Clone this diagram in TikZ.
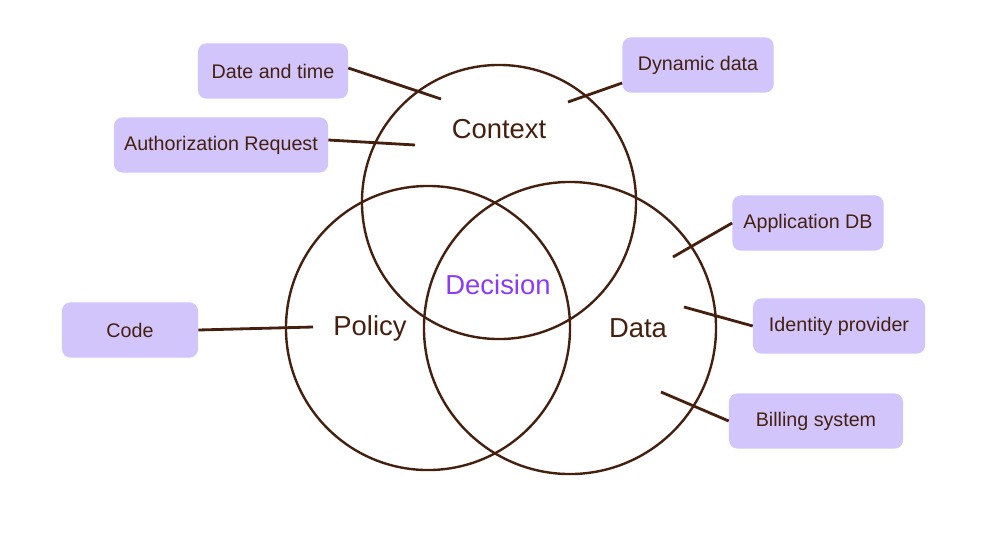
\documentclass[tikz,border=0pt]{standalone}
\usepackage{fontspec}
\setmainfont{Liberation Sans}
\usepackage{tikz}
\usetikzlibrary{calc}
\usepackage{xcolor}
\definecolor{ink}{HTML}{45200F}
\definecolor{lilac}{HTML}{D1C5FC}
\definecolor{decide}{HTML}{8A3CF6}

\begin{document}
\begin{tikzpicture}[x=0.025cm, y=-0.025cm, ink,
		tag/.style={fill=lilac, rounded corners=6pt, minimum height=1.38cm, inner sep=0pt, text=ink, font=\fontsize{14}{16}\selectfont},
		ring/.style={circle, draw=ink, line width=1.7pt, inner sep=0pt},
		big/.style={text=ink, font=\fontsize{19.5}{22}\selectfont},
		wire/.style={draw=ink, line width=2pt}]
					\useasboundingbox (0,0) rectangle (1004,540);
					\node[ring, minimum size=6.85cm] (context) at (499,202) {};
					\node[ring, minimum size=7.1cm] (policy) at (428,328) {};
					\node[ring, minimum size=7.3cm] (data) at (570,328) {};
					\node[big] (ctxlbl) at (499,129) {Context};
					\node[big] (pollbl) at (370,328) {Policy};
					\node[big] (datlbl) at (638,328) {Data};
					\node[big, text=decide] (decision) at (498,285) {Decision};
					\node[tag, minimum width=3.75cm] (date) at (273,71) {Date and time};
					\node[tag, minimum width=5.35cm] (authz) at (221,145) {Authorization Request};
					\node[tag, minimum width=3.78cm] (dyn) at (698,65) {Dynamic data};
					\node[tag, minimum width=3.78cm] (appdb) at (808,223) {Application DB};
					\node[tag, minimum width=4.3cm] (idp) at (839,326) {Identity provider};
					\node[tag, minimum width=4.35cm] (billing) at (816,421) {Billing system};
					\node[tag, minimum width=3.4cm] (code) at (130,330) {Code};
					% loose ends inside the rings
					\coordinate (date-end) at (441,99);
					\coordinate (authz-end) at (415,145);
					\coordinate (dyn-end) at (568,102);
					\coordinate (appdb-end) at (673,257);
					\coordinate (idp-end) at (684,307);
					\coordinate (billing-end) at (661,392);
					\coordinate (code-end) at (313,327);
					\draw[wire] ($(date.east)+(0,-3)$) -- (date-end);
					\draw[wire] ($(authz.east)+(0,-5)$) -- (authz-end);
					\draw[wire] ($(dyn.west)+(0,18)$) -- (dyn-end);
					\draw[wire] (appdb.west) -- (appdb-end);
					\draw[wire] (idp.west) -- (idp-end);
					\draw[wire] (billing.west) -- (billing-end);
					\draw[wire] (code.east) -- (code-end);
				\end{tikzpicture}
\end{document}
